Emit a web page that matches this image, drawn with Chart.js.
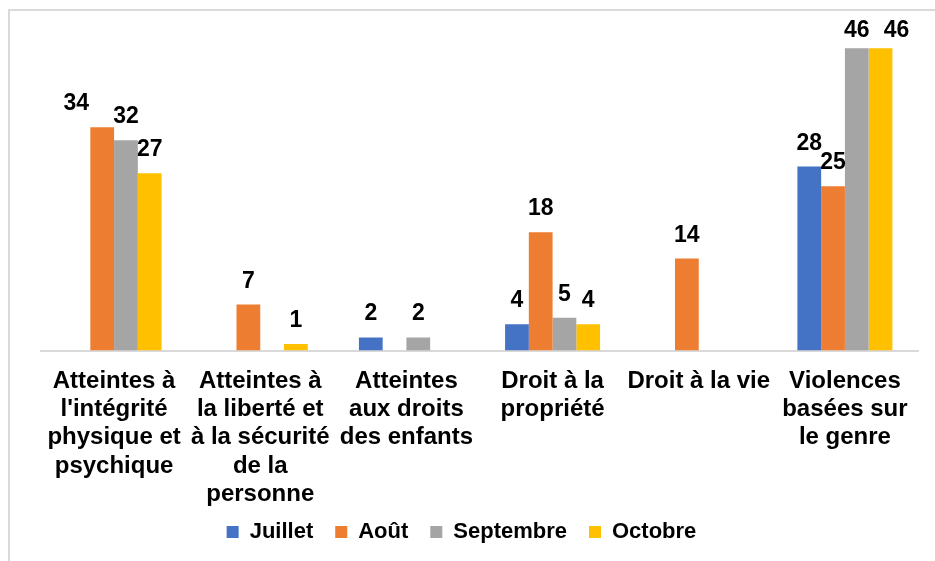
<!DOCTYPE html>
<html lang="fr">
<head>
<meta charset="UTF-8">
<title>Violations par catégorie</title>
<style>
  html, body { margin: 0; padding: 0; background: #fff; }
  #wrap { width: 935px; height: 561px; position: relative; }
</style>
</head>
<body>
<div id="wrap">
  <canvas id="myChart"></canvas>
</div>

<script src="https://cdn.jsdelivr.net/npm/chart.js"></script>
<script>
  const categories = [
    ["Atteintes à", "l'intégrité", "physique et", "psychique"],
    ["Atteintes à", "la liberté et", "à la sécurité", "de la", "personne"],
    ["Atteintes", "aux droits", "des enfants"],
    ["Droit à la", "propriété"],
    ["Droit à la vie"],
    ["Violences", "basées sur", "le genre"]
  ];
  const juillet   = [null, null, 2, 4, null, 28];
  const aout      = [34, 7, null, 18, 14, 25];
  const septembre = [32, null, 2, 5, null, 46];
  const octobre   = [27, 1, null, 4, null, 46];

  const FONT = "'Liberation Sans', Arial, sans-serif";

  // labels that Excel pushed sideways to avoid overlapping ("dataset-category": dx)
  const labelNudge = { '1-0': -26, '3-5': 16 };

  // frame around the chart (only left and top edges show)
  const framePlugin = {
    id: 'frame',
    beforeDraw(chart) {
      const c = chart.ctx;
      c.save();
      c.strokeStyle = '#d9d9d9';
      c.lineWidth = 2;
      c.strokeRect(9, 10, 940, 570);
      c.restore();
    }
  };

  // the x axis is squeezed so the legend sits close; let its labels run past it
  const unclipLabels = {
    id: 'unclipLabels',
    afterLayout(chart) {
      chart.scales.x.bottom = chart.height;
    }
  };

  // value labels above bars
  const valueLabels = {
    id: 'valueLabels',
    afterDatasetsDraw(chart) {
      const c = chart.ctx;
      c.save();
      c.font = 'bold 23px ' + FONT;
      c.fillStyle = '#000';
      c.textAlign = 'center';
      c.textBaseline = 'alphabetic';
      chart.data.datasets.forEach((ds, i) => {
        chart.getDatasetMeta(i).data.forEach((bar, j) => {
          const v = ds.data[j];
          if (v === null) return;
          const dx = labelNudge[i + '-' + j] || 0;
          const y = Math.max(bar.y - 17, 37);
          c.fillText(String(v), bar.x + dx, y);
        });
      });
      c.restore();
    }
  };

  const ctx = document.getElementById('myChart');
  new Chart(ctx, {
    type: 'bar',
    data: {
      labels: categories,
      datasets: [
        { label: 'Juillet', data: juillet, backgroundColor: '#4472C4' },
        { label: 'Août', data: aout, backgroundColor: '#ED7D31' },
        { label: 'Septembre', data: septembre, backgroundColor: '#A5A5A5' },
        { label: 'Octobre', data: octobre, backgroundColor: '#FFC000' }
      ]
    },
    options: {
      responsive: true,
      maintainAspectRatio: false,
      animation: false,
      layout: { padding: { left: 5, right: 17, top: 22, bottom: 8 } },
      datasets: {
        bar: { categoryPercentage: 0.65, barPercentage: 1.0 }
      },
      plugins: {
        legend: {
          position: 'bottom',
          labels: {
            boxWidth: 12,
            boxHeight: 12,
            padding: 22,
            color: '#000',
            font: { family: FONT, size: 22, weight: 'bold' }
          }
        },
        tooltip: { enabled: false }
      },
      scales: {
        x: {
          grid: { display: false, drawTicks: false },
          border: { display: true, color: '#d9d9d9', width: 2 },
          ticks: {
            color: '#000',
            maxRotation: 0,
            autoSkip: false,
            padding: 17,
            font: { family: FONT, size: 24, weight: 'bold', lineHeight: 1.17 }
          },
          afterFit(scale) { scale.height -= 26; }
        },
        y: {
          min: 0,
          max: 50,
          grid: { display: false },
          border: { display: false },
          ticks: { display: false },
          afterFit(scale) { scale.width = 36; }
        }
      }
    },
    plugins: [framePlugin, unclipLabels, valueLabels]
  });
</script>
</body>
</html>
